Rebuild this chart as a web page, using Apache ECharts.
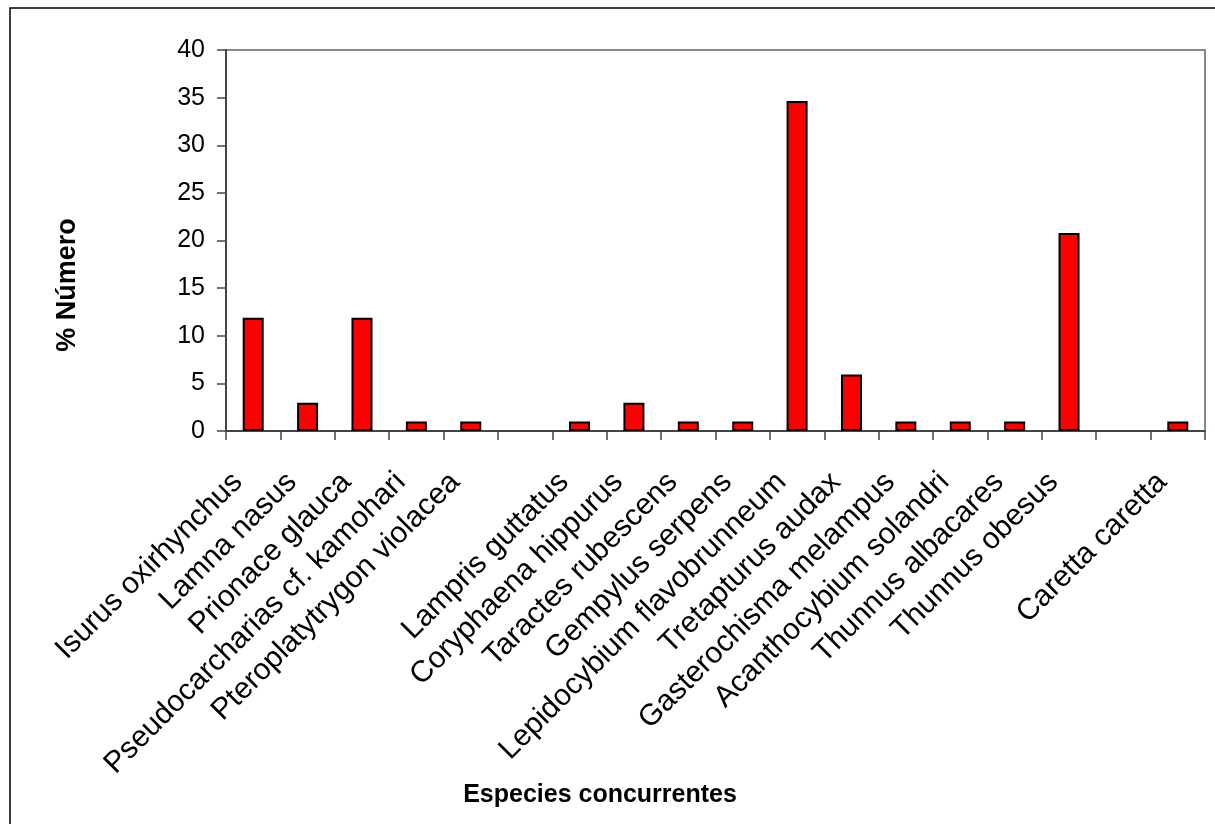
<!DOCTYPE html>
<html><head><meta charset="utf-8">
<script src="https://cdn.jsdelivr.net/npm/echarts@6/dist/echarts.min.js"></script>
<style>html,body{margin:0;padding:0;background:#fff}#c{width:1215px;height:824px}</style>
</head><body><div id="c"></div>
<script>
const categories = [
  'Isurus oxirhynchus', 'Lamna nasus', 'Prionace glauca', 'Pseudocarcharias cf. kamohari',
  'Pteroplatytrygon violacea', '', 'Lampris guttatus', 'Coryphaena hippurus',
  'Taractes rubescens', 'Gempylus serpens', 'Lepidocybium flavobrunneum', 'Tretapturus audax',
  'Gasterochisma melampus', 'Acanthocybium solandri', 'Thunnus albacares', 'Thunnus obesus',
  '', 'Caretta caretta'
];
const values = [11.88, 2.97, 11.88, 0.99, 0.99, null, 0.99, 2.97, 0.99, 0.99, 34.65, 5.94, 0.99, 0.99, 0.99, 20.79, null, 0.99];
const yMin = 0, yMax = 40, yStep = 5;
const xTitle = 'Especies concurrentes';
const yTitle = '% Número';

const FONT = 'Arial, "Liberation Sans", sans-serif';
const chart = echarts.init(document.getElementById('c'), null, {renderer: 'canvas'});
chart.setOption({
  animation: false,
  backgroundColor: '#fff',
  grid: {left: 226, right: 10, top: 50, bottom: 393, show: true, borderColor: '#888', borderWidth: 2, containLabel: false},
  xAxis: {
    type: 'category',
    data: categories,
    axisLine: {lineStyle: {color: '#444', width: 2}},
    axisTick: {show: true, inside: false, length: 9, alignWithLabel: false, lineStyle: {color: '#444', width: 1.5}},
    axisLabel: {
      interval: 0, rotate: 45, margin: 31, color: '#000',
      fontSize: 30, fontFamily: FONT, padding: [0, 22, 0, 0]
    },
    splitLine: {show: false}
  },
  yAxis: {
    type: 'value', min: yMin, max: yMax, interval: yStep,
    axisLine: {show: true, lineStyle: {color: '#444', width: 2}},
    axisTick: {show: true, inside: false, length: 9, lineStyle: {color: '#444', width: 1.5}},
    axisLabel: {color: '#000', fontSize: 25, fontFamily: FONT, margin: 21},
    splitLine: {show: false}
  },
  series: [{
    type: 'bar',
    data: values,
    barWidth: 21,
    itemStyle: {color: '#ff0000', borderColor: '#000', borderWidth: 2}
  }],
  graphic: [
    {type: 'rect', shape: {x: 10, y: 8, width: 1300, height: 900}, style: {fill: 'none', stroke: '#000', lineWidth: 1.5}, silent: true},
    {type: 'text', x: 68, y: 285, rotation: Math.PI / 2,
     style: {text: yTitle, fontSize: 27, fontWeight: 'bold', fontFamily: FONT, fill: '#000', align: 'center', verticalAlign: 'middle'}},
    {type: 'text', x: 600, y: 795,
     style: {text: xTitle, fontSize: 25, fontWeight: 'bold', fontFamily: FONT, fill: '#000', align: 'center', verticalAlign: 'middle'}}
  ]
});
</script>
</body></html>
